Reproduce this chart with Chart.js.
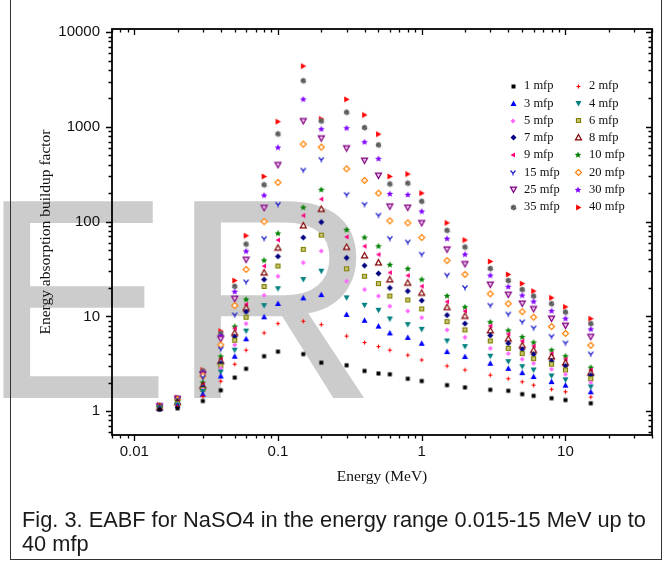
<!DOCTYPE html>
<html>
<head>
<meta charset="utf-8">
<script src="https://cdn.jsdelivr.net/npm/chart.js@4.4.0/dist/chart.umd.min.js"></script>
<style>
    html, body { margin: 0; padding: 0; background: #fff; }
    #wrap { position: relative; width: 670px; height: 563px; overflow: hidden; }
    #chartBox { position: absolute; left: 0; top: 0; width: 670px; height: 500px; }
    #box { position: absolute; left: 10px; top: -3px; width: 652px; height: 563px; border: 1px solid #333; box-sizing: border-box; pointer-events: none; }
    #caption { position: absolute; left: 22px; top: 508px; font: 21.8px/24px "Liberation Sans", Arial, sans-serif; color: #1a1a1a; white-space: nowrap; }
</style>
</head>
<body>
<div id="wrap">
    <div id="chartBox"><canvas id="chart" width="670" height="500"></canvas></div>
    <div id="box"></div>
    <div id="caption">Fig. 3. EABF for NaSO4 in the energy range 0.015-15 MeV up to<br>40 mfp</div>
</div>
<script>
// photon energies (MeV)
const energy = [0.015, 0.02, 0.03, 0.04, 0.05, 0.06, 0.08, 0.1, 0.15, 0.2, 0.3, 0.4, 0.5, 0.6, 0.8, 1, 1.5, 2, 3, 4, 5, 6, 8, 10, 15];

const seriesNames = ['1 mfp', '2 mfp', '3 mfp', '4 mfp', '5 mfp', '6 mfp', '7 mfp', '8 mfp',
    '9 mfp', '10 mfp', '15 mfp', '20 mfp', '25 mfp', '30 mfp', '35 mfp', '40 mfp'];

// EABF values, one array per penetration depth
const mfp1  = [1.04, 1.07, 1.28, 1.66, 2.26, 2.8, 3.8, 4.25, 4.0, 3.25, 3.05, 2.66, 2.5, 2.45, 2.2, 2.08, 1.88, 1.78, 1.68, 1.64, 1.51, 1.45, 1.37, 1.31, 1.21];
const mfp2  = [1.05, 1.12, 1.43, 2.07, 3.13, 4.4, 6.7, 8.4, 8.9, 8.2, 6.2, 5.3, 4.8, 4.4, 3.9, 3.47, 3.0, 2.72, 2.4, 2.2, 2.04, 1.88, 1.7, 1.6, 1.41];
const mfp3  = [1.06, 1.14, 1.51, 2.35, 3.8, 5.8, 9.9, 13.7, 15.7, 17, 10.5, 9.1, 7.9, 6.7, 6.0, 5.2, 4.25, 3.77, 3.2, 2.83, 2.55, 2.32, 2.05, 1.88, 1.6];
const mfp4  = [1.07, 1.16, 1.61, 2.59, 4.4, 7.0, 13, 19.6, 24.5, 30, 15.7, 13.1, 11.6, 9.4, 8.2, 7.3, 5.5, 4.8, 3.8, 3.33, 2.95, 2.72, 2.35, 2.14, 1.8];
const mfp5  = [1.08, 1.18, 1.68, 2.83, 5.0, 8.4, 16.7, 26.5, 37, 49, 23.5, 19.2, 16.4, 12.8, 11.4, 9.7, 7.2, 6.0, 4.6, 4.05, 3.53, 3.2, 2.77, 2.45, 2.0];
const mfp6  = [1.08, 1.2, 1.7, 3.0, 5.6, 9.8, 20.7, 34, 51, 72, 31.8, 26.5, 22.2, 16.4, 14.9, 12, 8.8, 7.2, 5.5, 4.6, 4.05, 3.58, 3.13, 2.72, 2.2];
const mfp7  = [1.09, 1.22, 1.78, 3.2, 6.1, 11.2, 24.5, 43, 68, 99, 41.5, 34.4, 28.4, 20, 18.5, 14.7, 10.3, 8.4, 6.3, 5.2, 4.5, 3.98, 3.38, 3.0, 2.39];
const mfp8  = [1.09, 1.24, 1.85, 3.38, 6.7, 12.3, 29, 53, 91, 136, 54, 43.9, 37, 24.5, 22.6, 17.7, 12.5, 10.1, 7.1, 5.8, 4.95, 4.4, 3.77, 3.25, 2.55];
const mfp9  = [1.1, 1.26, 1.92, 3.53, 7.45, 13.4, 34, 64, 116, 173, 69, 55, 45, 29, 27, 20.8, 14.3, 11.4, 7.9, 6.5, 5.5, 4.87, 4.05, 3.53, 2.72];
const mfp10 = [1.1, 1.28, 2.0, 3.77, 7.8, 15.1, 39, 75, 141, 217, 82, 68, 55, 35, 31.8, 24.5, 16.4, 12.5, 8.7, 7.1, 6.06, 5.3, 4.4, 3.8, 2.88];
const mfp15 = [1.11, 1.31, 2.26, 4.5, 10.3, 23, 66, 151, 347, 450, 192, 151, 116, 66, 60.5, 45, 27, 20, 13, 10.5, 8.7, 7.5, 6.1, 5.2, 3.98];
const mfp20 = [1.12, 1.33, 2.35, 5.0, 13, 31.3, 100, 259, 658, 611, 361, 272, 200, 102, 97, 68, 38.8, 27.7, 17.3, 13.6, 11.2, 9.8, 7.8, 6.6, 4.95];
const mfp25 = [1.13, 1.35, 2.45, 5.8, 15.4, 39.8, 140, 398, 1156, 760, 597, 442, 307, 145, 141, 97, 51, 35.8, 21.7, 17, 13.7, 12, 9.5, 8.0, 6.1];
const mfp30 = [1.14, 1.36, 2.55, 6.2, 18.2, 48.6, 189, 605, 1955, 945, 969, 690, 460, 196, 192, 128, 66, 45, 27, 20.5, 16.6, 14.3, 11.4, 9.45, 7.3];
const mfp35 = [1.15, 1.37, 2.65, 6.6, 20.8, 58, 245, 844, 3073, 1156, 1429, 984, 646, 250, 255, 164, 81, 54, 32, 23.9, 19.2, 16.4, 13.6, 11.1, 8.4];
const mfp40 = [1.16, 1.39, 2.72, 7.0, 23.9, 71, 300, 1137, 4385, 1213, 1955, 1336, 838, 300, 318, 200, 97, 64, 38, 27.7, 22.2, 18.5, 15.7, 12.6, 9.45];

const seriesValues = [mfp1, mfp2, mfp3, mfp4, mfp5, mfp6, mfp7, mfp8, mfp9, mfp10, mfp15, mfp20, mfp25, mfp30, mfp35, mfp40];

const xTickLabels = [0.01, 0.1, 1, 10];
const yTickLabels = [1, 10, 100, 1000, 10000];

// marker look for each series (Origin-like symbols)
const markerSpecs = [
    { shape: 'square', fill: '#000000', size: 4 },
    { shape: 'plus', stroke: '#ff0000', size: 4 },
    { shape: 'triUp', fill: '#0000ff', size: 6 },
    { shape: 'triDown', fill: '#008080', size: 6 },
    { shape: 'diamond', fill: '#ff66ff', size: 5 },
    { shape: 'square', fill: '#c8c878', stroke: '#808000', size: 4 },
    { shape: 'diamond', fill: '#000080', size: 6 },
    { shape: 'triUp', fill: '#ffffff', stroke: '#800000', size: 6 },
    { shape: 'triLeft', fill: '#ff0080', size: 5 },
    { shape: 'star', fill: '#008000', size: 7 },
    { shape: 'yMark', stroke: '#2222cc', size: 5 },
    { shape: 'diamond', fill: '#ffffff', stroke: '#ff8000', size: 6 },
    { shape: 'triDown', fill: '#f0c8f0', stroke: '#800080', size: 6 },
    { shape: 'star', fill: '#8000ff', size: 7 },
    { shape: 'hex', fill: '#555555', size: 6 },
    { shape: 'triRight', fill: '#ff0000', size: 6 }
];

function path(g, pts) {
    g.beginPath();
    pts.forEach((p, i) => i ? g.lineTo(p[0], p[1]) : g.moveTo(p[0], p[1]));
    g.closePath();
}

function shapePoints(shape, r) {
    switch (shape) {
        case 'triUp': return [[0, -r], [r, r * 0.8], [-r, r * 0.8]];
        case 'triDown': return [[0, r], [r, -r * 0.8], [-r, -r * 0.8]];
        case 'triLeft': return [[-r, 0], [r * 0.8, -r], [r * 0.8, r]];
        case 'triRight': return [[r, 0], [-r * 0.8, -r], [-r * 0.8, r]];
        case 'diamond': return [[0, -r], [r, 0], [0, r], [-r, 0]];
        case 'square': return [[-r, -r], [r, -r], [r, r], [-r, r]];
        case 'hex': {
            const pts = [];
            for (let i = 0; i < 6; i++) {
                const a = Math.PI / 6 + i * Math.PI / 3;
                pts.push([r * Math.cos(a), r * Math.sin(a)]);
            }
            return pts;
        }
        case 'star': {
            const pts = [];
            for (let i = 0; i < 10; i++) {
                const a = -Math.PI / 2 + i * Math.PI / 5;
                const rr = i % 2 ? r * 0.45 : r;
                pts.push([rr * Math.cos(a), rr * Math.sin(a)]);
            }
            return pts;
        }
    }
    return null;
}

function makeMarker(spec) {
    const size = spec.size + 3;
    const c = document.createElement('canvas');
    c.width = size;
    c.height = size;
    const g = c.getContext('2d');
    g.translate(size / 2, size / 2);
    const r = spec.size / 2;
    g.lineWidth = 1.2;
    if (spec.shape === 'plus') {
        g.strokeStyle = spec.stroke;
        g.beginPath();
        g.moveTo(-r, 0); g.lineTo(r, 0);
        g.moveTo(0, -r); g.lineTo(0, r);
        g.stroke();
    } else if (spec.shape === 'yMark') {
        g.strokeStyle = spec.stroke;
        g.beginPath();
        g.moveTo(-r, -r); g.lineTo(0, 0.2 * r); g.lineTo(r, -r);
        g.moveTo(0, 0.2 * r); g.lineTo(0, r);
        g.stroke();
    } else {
        path(g, shapePoints(spec.shape, r));
        if (spec.fill) { g.fillStyle = spec.fill; g.fill(); }
        if (spec.stroke) { g.strokeStyle = spec.stroke; g.stroke(); }
        if (spec.shape === 'hex') {
            // checkered look
            g.fillStyle = '#c8c8c8';
            for (let i = -3; i <= 3; i += 2) {
                for (let j = -3; j <= 3; j += 2) {
                    if ((i + j) % 4 === 0 && Math.abs(i) + Math.abs(j) < 5) g.fillRect(i, j, 1, 1);
                }
            }
        }
    }
    return c;
}

const markerImages = markerSpecs.map(makeMarker);

function isLabelled(v, list) {
    return list.some(t => Math.abs(v - t) / t < 1e-6);
}

// big grey watermark behind the plot
const watermark = {
    id: 'watermark',
    beforeDraw(chart) {
        const ctx = chart.ctx;
        ctx.save();
        ctx.fillStyle = '#cccccc';
        ctx.font = '286px "Liberation Sans", Arial, sans-serif';
        ctx.textBaseline = 'alphabetic';
        ctx.fillText('ER', -20, 398);
        ctx.restore();
    }
};

// frame plus major/minor log ticks on all four sides
const frameTicks = {
    id: 'frameTicks',
    afterDraw(chart) {
        const { ctx, chartArea: a, scales } = chart;
        ctx.save();
        ctx.strokeStyle = '#000';
        ctx.lineWidth = 1.3;

        const logTicks = (min, max) => {
            const out = [];
            for (let d = Math.floor(Math.log10(min)); d <= Math.ceil(Math.log10(max)); d++) {
                for (let m = 1; m <= 9; m++) {
                    const v = m * Math.pow(10, d);
                    if (v >= min * 0.9999 && v <= max * 1.0001) out.push({ v, major: m === 1 });
                }
            }
            return out;
        };

        ctx.beginPath();
        logTicks(scales.x.min, scales.x.max).forEach(t => {
            const px = Math.round(scales.x.getPixelForValue(t.v)) + 0.5;
            const len = t.major ? 6 : 3.5;
            ctx.moveTo(px, a.bottom); ctx.lineTo(px, a.bottom + len);   // bottom: outward
            ctx.moveTo(px, a.top); ctx.lineTo(px, a.top + len);         // top: inward
        });
        logTicks(scales.y.min, scales.y.max).forEach(t => {
            const py = Math.round(scales.y.getPixelForValue(t.v)) + 0.5;
            const len = t.major ? 6 : 3.5;
            ctx.moveTo(a.left, py); ctx.lineTo(a.left - len, py);       // left: outward
            ctx.moveTo(a.right, py); ctx.lineTo(a.right - len, py);     // right: inward
        });
        ctx.stroke();

        ctx.lineWidth = 1.8;
        ctx.strokeRect(a.left, a.top, a.right - a.left, a.bottom - a.top);
        ctx.restore();
    }
};

// two-column legend inside the plot, top right
const mfpLegend = {
    id: 'mfpLegend',
    afterDraw(chart) {
        const ctx = chart.ctx;
        ctx.save();
        ctx.font = '12.5px "Liberation Serif", "Times New Roman", serif';
        ctx.fillStyle = '#111';
        ctx.textBaseline = 'middle';
        seriesNames.forEach((name, k) => {
            const row = Math.floor(k / 2);
            const col = k % 2;
            const y = 86 + row * 17.3;
            const mx = col ? 578 : 513;
            const img = markerImages[k];
            ctx.drawImage(img, Math.round(mx - img.width / 2), Math.round(y - img.height / 2));
            ctx.fillText(name, mx + 11, y);
        });
        ctx.restore();
    }
};

const datasets = seriesValues.map((vals, k) => ({
    label: seriesNames[k],
    data: energy.map((e, i) => ({ x: e, y: vals[i] })),
    pointStyle: markerImages[k],
    pointRadius: 3,
    showLine: false
}));

const tickFont = { family: '"Liberation Sans", Arial, sans-serif', size: 15 };
const titleFont = { family: '"Liberation Serif", "Times New Roman", serif', size: 15.5 };

new Chart(document.getElementById('chart'), {
    type: 'scatter',
    data: { datasets },
    options: {
        responsive: false,
        animation: false,
        layout: { padding: { left: 0, right: 18, top: 29, bottom: 0 } },
        plugins: {
            legend: { display: false },
            tooltip: { enabled: false }
        },
        scales: {
            x: {
                type: 'logarithmic',
                position: 'bottom',
                min: 0.007,
                max: 40,
                grid: { display: false, drawTicks: false },
                border: { display: false },
                ticks: {
                    autoSkip: false,
                    maxRotation: 0,
                    padding: 8,
                    color: '#111',
                    font: tickFont,
                    callback: v => isLabelled(v, xTickLabels) ? String(v) : ''
                },
                title: {
                    display: true,
                    text: 'Energy (MeV)',
                    color: '#111',
                    font: titleFont,
                    padding: { top: 0, bottom: 14 }
                },
                afterFit: s => { s.height = 65; }
            },
            y: {
                type: 'logarithmic',
                position: 'left',
                min: 0.56,
                max: 10800,
                grid: { display: false, drawTicks: false },
                border: { display: false },
                ticks: {
                    autoSkip: false,
                    padding: 12,
                    color: '#111',
                    font: tickFont,
                    callback: v => isLabelled(v, yTickLabels) ? String(v) : ''
                },
                title: {
                    display: true,
                    text: 'Energy absorption buildup factor',
                    color: '#111',
                    font: titleFont,
                    padding: { top: 37, bottom: 0 }
                },
                afterFit: s => { s.width = 112; }
            }
        }
    },
    plugins: [watermark, frameTicks, mfpLegend]
});
</script>
</body>
</html>
